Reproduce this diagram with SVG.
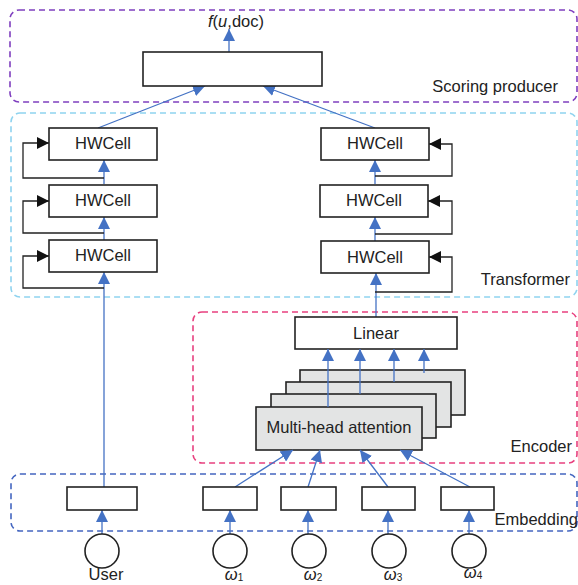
<svg xmlns="http://www.w3.org/2000/svg" width="578" height="585" viewBox="0 0 578 585">
<defs>
<style>
.box{fill:#fff;stroke:#222;stroke-width:1.6}
.gbox{fill:#e3e4e4;stroke:#222;stroke-width:1.6}
.t{font-family:"Liberation Sans",Arial,sans-serif;font-size:16.5px;fill:#222}
.blue{stroke:#4472c4;stroke-width:1.3;fill:none}
.blk{stroke:#222;stroke-width:1.3;fill:none}
.dash{fill:none;stroke-width:1.6;stroke-dasharray:6 4}
</style>
<marker id="ab" viewBox="0 0 10 10" refX="10" refY="5" markerWidth="12" markerHeight="12" markerUnits="userSpaceOnUse" orient="auto"><path d="M0,0 L10,5 L0,10 z" fill="#4472c4"/></marker>
<marker id="ak" viewBox="0 0 10 10" refX="10" refY="5" markerWidth="12" markerHeight="12" markerUnits="userSpaceOnUse" orient="auto"><path d="M0,0 L10,5 L0,10 z" fill="#111"/></marker>
</defs>
<g id="groups">
<rect class="dash" x="10" y="10" width="567" height="92" rx="9" stroke="#7f3fbf"/>
<text class="t" x="558" y="92" text-anchor="end">Scoring producer</text>
<rect class="dash" x="11" y="113" width="566" height="184" rx="9" stroke="#8fd3ef"/>
<text class="t" x="570" y="285" text-anchor="end">Transformer</text>
<rect class="dash" x="193" y="312" width="384" height="151" rx="9" stroke="#e8407f"/>
<text class="t" x="572" y="452" text-anchor="end">Encoder</text>
<rect class="dash" x="11" y="474" width="566" height="57" rx="9" stroke="#4466c0"/>
<text class="t" x="578" y="525" text-anchor="end">Embedding</text>
</g>
<g id="connectors">
<line class="blue" x1="229" y1="52" x2="229" y2="29" marker-end="url(#ab)"/>
<line class="blue" x1="98" y1="128" x2="205" y2="86" marker-end="url(#ab)"/>
<line class="blue" x1="375" y1="128" x2="263" y2="86" marker-end="url(#ab)"/>
<line class="blue" x1="104" y1="184" x2="104" y2="160" marker-end="url(#ab)"/>
<line class="blue" x1="104" y1="240" x2="104" y2="217" marker-end="url(#ab)"/>
<line class="blue" x1="104" y1="487" x2="104" y2="272" marker-end="url(#ab)"/>
<polyline class="blk" points="104,178 23,178 23,143 49,143" marker-end="url(#ak)"/>
<polyline class="blk" points="104,233 23,233 23,201 49,201" marker-end="url(#ak)"/>
<polyline class="blk" points="104,288 23,288 23,256 49,256" marker-end="url(#ak)"/>
<line class="blue" x1="375" y1="184" x2="375" y2="160" marker-end="url(#ab)"/>
<line class="blue" x1="375" y1="241" x2="375" y2="217" marker-end="url(#ab)"/>
<line class="blue" x1="376" y1="317" x2="376" y2="273" marker-end="url(#ab)"/>
<polyline class="blk" points="375,176 452,176 452,144 429,144" marker-end="url(#ak)"/>
<polyline class="blk" points="375,234 452,234 452,201 428,201" marker-end="url(#ak)"/>
<polyline class="blk" points="375,292 452,292 452,257 429,257" marker-end="url(#ak)"/>
</g>
<g id="score"><rect class="box" x="143" y="52" width="179" height="34"/></g>
<text class="t" x="236" y="27" text-anchor="middle"><tspan font-style="italic">f</tspan>(<tspan font-style="italic">u</tspan>,doc)</text>
<g id="hw-l1"><rect class="box" x="49" y="128" width="108" height="32"/><text class="t" x="103" y="149" text-anchor="middle">HWCell</text></g>
<g id="hw-l2"><rect class="box" x="49" y="185" width="108" height="32"/><text class="t" x="103" y="206" text-anchor="middle">HWCell</text></g>
<g id="hw-l3"><rect class="box" x="49" y="240" width="108" height="32"/><text class="t" x="103" y="261" text-anchor="middle">HWCell</text></g>
<g id="hw-r1"><rect class="box" x="321" y="128" width="108" height="32"/><text class="t" x="375" y="149" text-anchor="middle">HWCell</text></g>
<g id="hw-r2"><rect class="box" x="320" y="185" width="108" height="32"/><text class="t" x="374" y="206" text-anchor="middle">HWCell</text></g>
<g id="hw-r3"><rect class="box" x="321" y="241" width="108" height="32"/><text class="t" x="375" y="263" text-anchor="middle">HWCell</text></g>
<g id="linear"><rect class="box" x="295" y="317" width="162" height="32"/><text class="t" x="376" y="339" text-anchor="middle">Linear</text></g>
<g id="mha">
<rect class="gbox" x="300" y="370" width="165" height="45"/>
<rect class="gbox" x="286" y="382" width="165" height="45"/>
<rect class="gbox" x="271" y="394" width="165" height="44"/>
<rect class="gbox" x="256" y="407" width="166" height="43"/>
<text class="t" x="339" y="433" text-anchor="middle">Multi-head attention</text>
</g>
<g id="mha-arrows">
<line class="blue" x1="328" y1="407" x2="328" y2="349" marker-end="url(#ab)"/>
<line class="blue" x1="360" y1="394" x2="360" y2="349" marker-end="url(#ab)"/>
<line class="blue" x1="394" y1="382" x2="394" y2="349" marker-end="url(#ab)"/>
<line class="blue" x1="424" y1="373" x2="424" y2="349" marker-end="url(#ab)"/>
<line class="blue" x1="235" y1="487" x2="293" y2="450" marker-end="url(#ab)"/>
<line class="blue" x1="308" y1="487" x2="320" y2="450" marker-end="url(#ab)"/>
<line class="blue" x1="388" y1="487" x2="360" y2="450" marker-end="url(#ab)"/>
<line class="blue" x1="470" y1="487" x2="400" y2="450" marker-end="url(#ab)"/>
<line class="blue" x1="102" y1="534" x2="102" y2="510" marker-end="url(#ab)"/>
<line class="blue" x1="230" y1="534" x2="230" y2="510" marker-end="url(#ab)"/>
<line class="blue" x1="308" y1="534" x2="308" y2="510" marker-end="url(#ab)"/>
<line class="blue" x1="388" y1="534" x2="388" y2="510" marker-end="url(#ab)"/>
<line class="blue" x1="469" y1="534" x2="469" y2="510" marker-end="url(#ab)"/>
</g>
<g id="emb-user"><rect class="box" x="67" y="487" width="70" height="23"/></g>
<g id="emb-w1"><rect class="box" x="203" y="487" width="54" height="23"/></g>
<g id="emb-w2"><rect class="box" x="281" y="487" width="55" height="23"/></g>
<g id="emb-w3"><rect class="box" x="362" y="487" width="53" height="23"/></g>
<g id="emb-w4"><rect class="box" x="441" y="487" width="53" height="23"/></g>
<g id="in-user"><circle cx="102" cy="551" r="17" class="box"/><text class="t" x="106" y="580" text-anchor="middle">User</text></g>
<g id="in-w1"><circle cx="230" cy="551" r="17" class="box"/><text class="t" x="234" y="580" text-anchor="middle" font-size="18"><tspan font-style="italic">ω</tspan><tspan font-size="10" dy="1">1</tspan></text></g>
<g id="in-w2"><circle cx="309" cy="551" r="17" class="box"/><text class="t" x="313" y="580" text-anchor="middle" font-size="18"><tspan font-style="italic">ω</tspan><tspan font-size="10" dy="1">2</tspan></text></g>
<g id="in-w3"><circle cx="389" cy="551" r="17" class="box"/><text class="t" x="393" y="580" text-anchor="middle" font-size="18"><tspan font-style="italic">ω</tspan><tspan font-size="10" dy="1">3</tspan></text></g>
<g id="in-w4"><circle cx="469" cy="551" r="17" class="box"/><text class="t" x="473" y="578" text-anchor="middle" font-size="18"><tspan font-style="italic">ω</tspan><tspan font-size="10" dy="1">4</tspan></text></g>
</svg>
